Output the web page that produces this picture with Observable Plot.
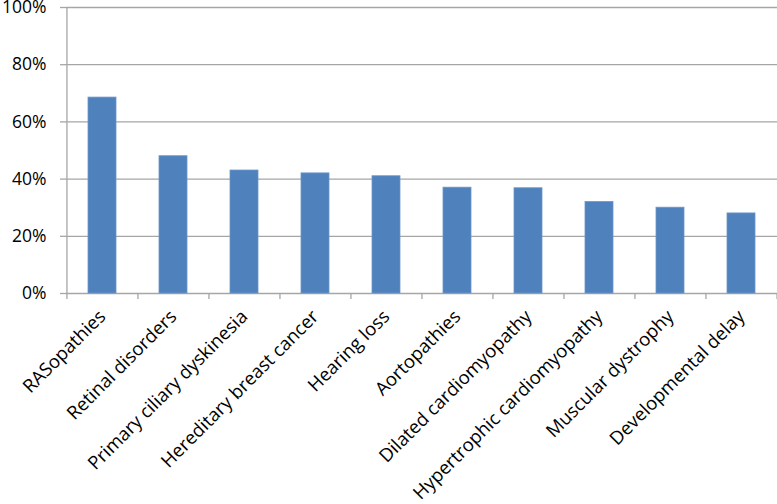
<!DOCTYPE html>
<html>
<head>
<meta charset="utf-8">
<script src="https://cdn.jsdelivr.net/npm/d3@7"></script>
<script src="https://cdn.jsdelivr.net/npm/@observablehq/plot@0.6"></script>
<style>
  html, body { margin: 0; padding: 0; background: #fff; }
  #chart svg { display: block; overflow: visible; }
</style>
</head>
<body>
<div id="chart"></div>
<script>
const categories = [
  "RASopathies",
  "Retinal disorders",
  "Primary ciliary dyskinesia",
  "Hereditary breast cancer",
  "Hearing loss",
  "Aortopathies",
  "Dilated cardiomyopathy",
  "Hypertrophic cardiomyopathy",
  "Muscular dystrophy",
  "Developmental delay"
];
const values = [68.5, 48, 43, 42, 41, 37, 36.8, 32, 30, 28];
const yTicks = [0, 20, 40, 60, 80, 100];

const data = categories.map((c, i) => ({category: c, value: values[i]}));

const width = 777, height = 504;
const marginLeft = 66, marginRight = 0, marginTop = 7, marginBottom = 211;
const step = (width - marginLeft - marginRight) / categories.length;
const font = "'Open Sans', sans-serif";
const grid = "#a6a6a6";

const chart = Plot.plot({
  width, height, marginLeft, marginRight, marginTop, marginBottom,
  style: {fontFamily: font, fontSize: "17.5px", background: "#fff", color: "#000", overflow: "visible"},
  x: {domain: categories, paddingInner: 0.6, paddingOuter: 0.3, label: null},
  y: {domain: [0, 100], label: null},
  marks: [
    Plot.ruleY(yTicks, {stroke: grid, strokeWidth: 1.3}),
    Plot.ruleX([0], {x: () => categories[0], y1: 0, y2: 100, dx: -step / 2, stroke: grid, strokeWidth: 1.3}),
    Plot.barY(data, {x: "category", y: "value", fill: "#4f81bd", stroke: "#6d97cb", strokeWidth: 0.8}),
    Plot.axisY({ticks: yTicks, tickFormat: d => d + "%", tickSize: 6, tickPadding: 14,
      stroke: grid, strokeWidth: 1.3, fill: "#000", fontSize: 17.5}),
    Plot.axisX({text: null, tickSize: 6, dx: -step / 2, stroke: grid, strokeWidth: 1.3}),
    Plot.axisX({ticks: [categories[categories.length - 1]], text: null, tickSize: 6, dx: step / 2, stroke: grid, strokeWidth: 1.3}),
    Plot.axisX({tickSize: 0, tickRotate: -45, tickPadding: 20, fill: "#000", fontSize: 18.5})
  ]
});
document.getElementById("chart").appendChild(chart);
</script>
</body>
</html>
